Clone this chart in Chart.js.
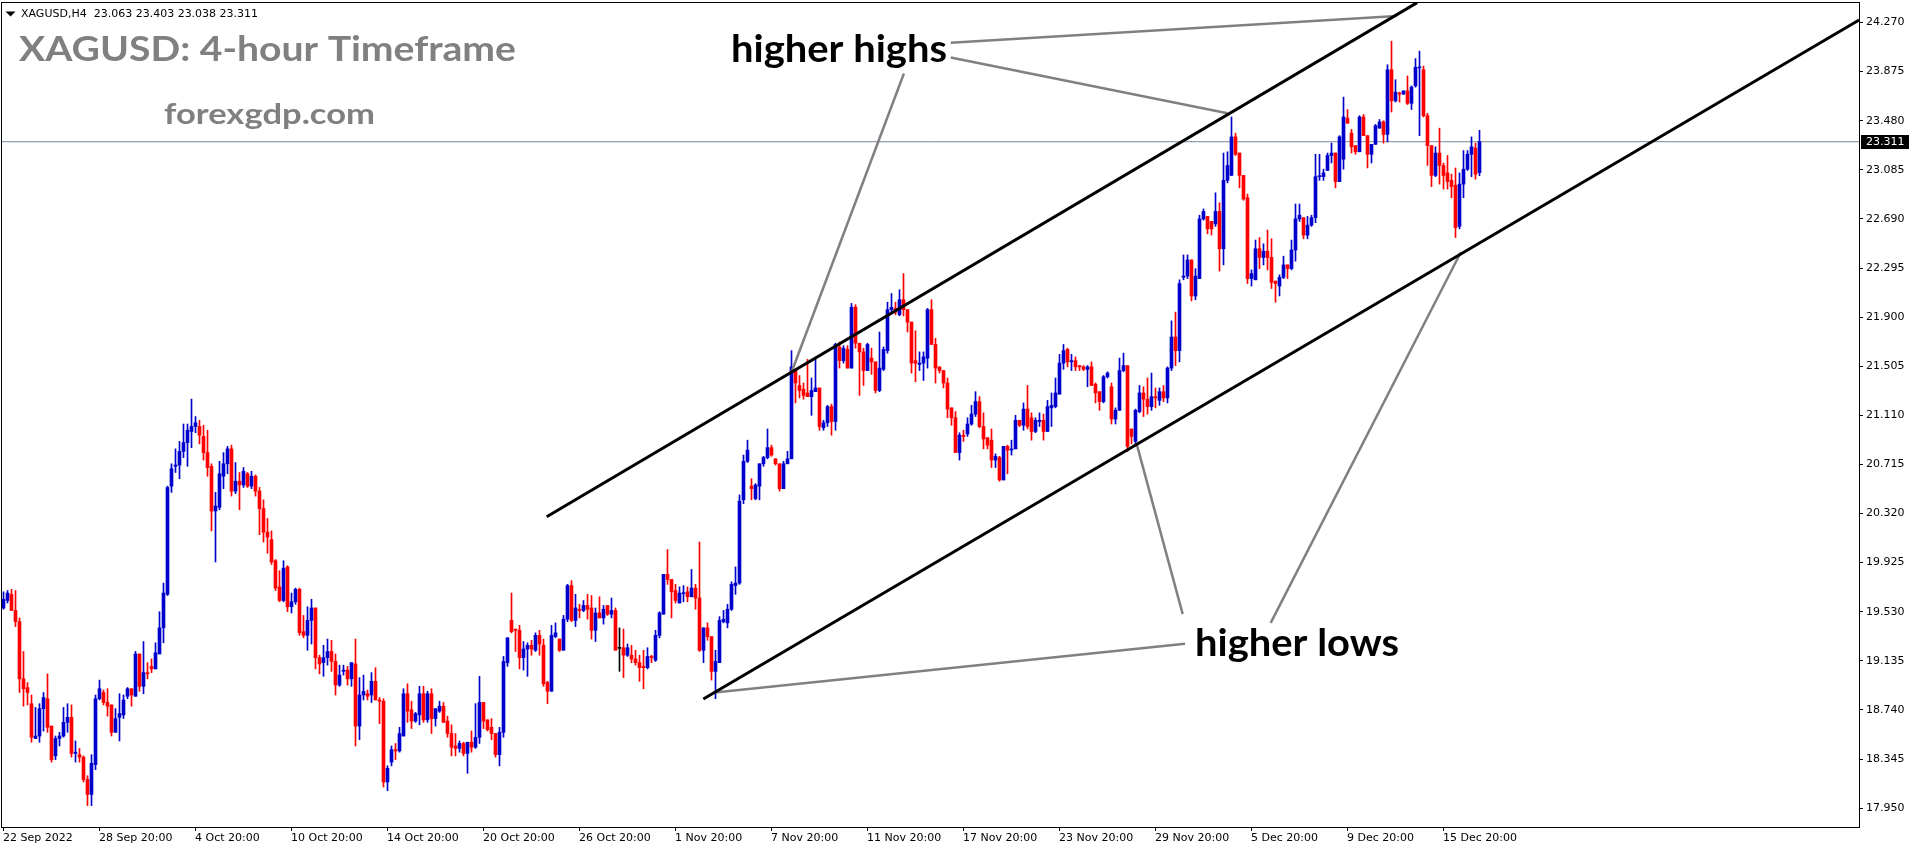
<!DOCTYPE html>
<html>
<head>
<meta charset="utf-8">
<title>XAGUSD H4</title>
<script src="https://cdn.jsdelivr.net/npm/chart.js"></script>
<style>
  html, body { margin: 0; padding: 0; background: #ffffff; }
  #chart { display: block; }
</style>
</head>
<body>
<canvas id="chart" width="1916" height="850"></canvas>
<script>
// velas H4 de XAGUSD (22 Sep - 19 Dec 2022), una entrada por barra
const opens = [
  19.56,19.62,19.67,19.54,19.45,18.99,18.92,18.79,18.51,18.53,
  18.75,18.83,18.61,18.37,18.51,18.53,18.64,18.68,18.39,18.38,
  18.36,18.18,18.06,18.30,18.83,18.88,18.80,18.78,18.56,18.68,
  18.70,18.85,18.91,18.85,19.19,18.93,19.04,19.09,19.07,19.19,
  19.40,19.67,20.54,20.70,20.71,20.82,20.89,20.98,21.02,21.02,
  20.94,20.81,20.70,20.34,20.37,20.62,20.72,20.84,20.50,20.58,
  20.55,20.64,20.54,20.62,20.50,20.36,20.17,20.11,19.94,19.73,
  19.62,19.89,19.57,19.61,19.71,19.37,19.34,19.46,19.56,19.16,
  19.12,19.16,19.21,19.13,18.94,19.05,19.06,18.99,19.11,18.61,
  18.86,18.87,18.86,18.97,18.82,18.81,18.16,18.32,18.42,18.41,
  18.53,18.87,18.74,18.65,18.70,18.87,18.66,18.87,18.67,18.73,
  18.77,18.65,18.55,18.45,18.43,18.47,18.39,18.48,18.44,18.52,
  18.80,18.66,18.60,18.55,18.38,18.56,19.12,19.46,19.39,19.38,
  19.16,19.23,19.26,19.22,19.34,19.26,18.96,18.89,19.33,19.31,
  19.22,19.47,19.74,19.46,19.55,19.54,19.58,19.56,19.38,19.52,
  19.48,19.58,19.51,19.54,19.235,19.24,19.18,19.18,19.15,19.12,
  19.09,19.08,19.17,19.14,19.34,19.51,19.83,19.79,19.70,19.60,
  19.675,19.69,19.65,19.72,19.64,19.22,19.40,19.33,19.05,19.12,
  19.45,19.44,19.55,19.74,19.76,20.43,20.74,20.54,20.44,20.54,
  20.72,20.77,20.85,20.76,20.72,20.52,20.72,20.76,21.47,21.35,
  21.32,21.29,21.26,21.30,21.33,21.01,21.05,21.18,21.06,21.66,
  21.55,21.64,21.49,21.98,21.69,21.62,21.47,21.57,21.54,21.31,
  21.48,21.63,21.96,21.97,21.92,22.04,21.96,21.86,21.55,21.52,
  21.53,21.57,21.96,21.68,21.50,21.47,21.37,21.17,21.09,20.81,
  20.95,20.96,21.04,21.12,21.22,21.02,20.93,20.91,20.75,20.77,
  20.59,20.86,20.83,20.84,21.07,21.03,21.16,21.09,20.98,21.06,
  21.07,20.98,21.17,21.18,21.28,21.53,21.64,21.54,21.55,21.51,
  21.50,21.48,21.50,21.36,21.30,21.22,21.42,21.34,21.08,21.15,
  21.47,21.51,21.00,20.90,21.14,21.29,21.24,21.18,21.26,21.23,
  21.30,21.25,21.49,21.74,21.63,22.22,22.23,22.36,22.07,22.21,
  22.69,22.71,22.67,22.65,22.75,22.45,23.00,23.04,23.35,23.22,
  23.04,22.86,22.21,22.20,22.45,22.38,22.43,22.38,22.19,22.15,
  22.22,22.32,22.29,22.44,22.69,22.70,22.56,22.64,22.70,23.03,
  23.03,23.08,23.20,23.22,22.99,23.17,23.50,23.38,23.28,23.23,
  23.51,23.36,23.21,23.29,23.42,23.47,23.37,23.89,23.64,23.70,
  23.695,23.72,23.62,23.76,23.905,23.89,23.52,23.28,23.04,23.22,
  23.12,23.06,23.00,22.96,22.63,22.97,23.09,23.21,23.26,23.063
];
const highs = [
  19.69,19.70,19.71,19.70,19.48,19.21,18.96,18.86,18.76,18.79,
  18.88,19.03,18.61,18.53,18.56,18.76,18.79,18.78,18.49,18.43,
  18.37,18.21,18.38,18.86,18.98,18.90,18.91,18.78,18.75,18.87,
  18.86,18.92,18.91,19.21,19.19,19.29,19.12,19.15,19.28,19.53,
  19.76,20.54,20.72,20.84,20.90,21.04,21.04,21.24,21.10,21.07,
  21.03,20.99,20.72,20.49,20.74,20.81,20.86,20.87,20.73,20.65,
  20.69,20.65,20.66,20.63,20.53,20.43,20.28,20.18,19.95,19.86,
  19.94,19.90,19.68,19.72,19.72,19.50,19.57,19.63,19.56,19.18,
  19.26,19.31,19.30,19.19,19.10,19.10,19.09,19.12,19.31,19.00,
  19.02,18.90,19.04,19.08,18.84,18.83,18.29,18.45,18.47,18.60,
  18.91,18.95,18.81,18.72,18.93,18.93,18.89,18.91,18.75,18.81,
  18.80,18.69,18.62,18.55,18.49,18.48,18.48,18.57,18.79,19.01,
  18.80,18.66,18.67,18.55,18.60,19.17,19.32,19.68,19.39,19.42,
  19.29,19.28,19.30,19.36,19.38,19.31,18.97,19.42,19.44,19.31,
  19.50,19.75,19.78,19.67,19.59,19.62,19.67,19.66,19.56,19.65,
  19.58,19.58,19.64,19.56,19.40,19.39,19.27,19.26,19.22,19.18,
  19.22,19.24,19.18,19.38,19.53,19.83,20.03,19.79,19.75,19.73,
  19.74,19.73,19.87,19.75,20.09,19.40,19.44,19.33,19.22,19.49,
  19.54,19.59,19.77,19.89,20.47,20.79,20.91,20.60,20.56,20.72,
  20.78,21.00,20.87,20.76,20.72,20.74,20.82,21.63,21.47,21.43,
  21.37,21.56,21.41,21.57,21.33,21.07,21.19,21.20,21.69,21.70,
  21.67,21.67,22.01,22.00,21.69,21.65,21.69,21.65,21.54,21.78,
  21.66,22.02,22.09,22.02,22.12,22.25,21.96,21.86,21.79,21.62,
  21.62,21.97,22.04,21.73,21.50,21.47,21.41,21.17,21.14,20.97,
  20.99,21.09,21.19,21.30,21.26,21.13,20.93,21.00,20.80,20.78,
  20.86,20.87,20.91,21.11,21.07,21.21,21.35,21.13,21.09,21.13,
  21.12,21.23,21.29,21.41,21.60,21.68,21.65,21.60,21.58,21.51,
  21.51,21.51,21.54,21.37,21.30,21.43,21.46,21.37,21.17,21.57,
  21.61,21.51,21.00,21.16,21.35,21.34,21.41,21.45,21.33,21.33,
  21.35,21.50,21.87,21.94,22.20,22.40,22.40,22.36,22.29,22.72,
  22.77,22.71,22.67,22.90,22.82,23.22,23.23,23.51,23.38,23.22,
  23.04,22.89,22.28,22.52,22.54,22.49,22.60,22.53,22.19,22.24,
  22.39,22.32,22.52,22.81,22.81,22.70,22.71,22.72,23.21,23.21,
  23.09,23.22,23.30,23.22,23.36,23.67,23.57,23.41,23.28,23.52,
  23.53,23.36,23.29,23.45,23.49,23.48,23.93,24.12,23.81,23.71,
  23.72,23.84,23.76,23.98,24.04,23.92,23.54,23.28,23.27,23.42,
  23.14,23.20,23.05,23.10,23.06,23.24,23.24,23.35,23.30,23.403
];
const lows = [
  19.55,19.60,19.54,19.41,18.88,18.77,18.78,18.48,18.51,18.48,
  18.57,18.56,18.32,18.34,18.45,18.52,18.56,18.36,18.32,18.32,
  18.16,17.97,17.97,18.26,18.82,18.78,18.69,18.53,18.56,18.49,
  18.67,18.83,18.77,18.85,18.89,18.87,18.99,19.04,19.07,19.19,
  19.28,19.66,20.49,20.65,20.60,20.77,20.70,20.85,20.97,20.88,
  20.75,20.62,20.18,19.93,20.35,20.52,20.64,20.46,20.48,20.35,
  20.53,20.53,20.52,20.46,20.15,20.09,20.00,19.91,19.70,19.61,
  19.61,19.53,19.52,19.59,19.34,19.32,19.22,19.27,19.07,19.03,
  19.01,19.10,19.05,18.86,18.93,19.02,18.94,18.93,18.45,18.50,
  18.82,18.82,18.80,18.82,18.63,18.12,18.09,18.29,18.34,18.40,
  18.53,18.64,18.59,18.64,18.62,18.64,18.64,18.55,18.61,18.72,
  18.64,18.52,18.37,18.37,18.40,18.37,18.23,18.40,18.43,18.47,
  18.59,18.57,18.50,18.36,18.29,18.52,19.09,19.36,19.21,19.07,
  19.06,19.01,19.18,19.21,19.18,18.93,18.79,18.89,19.32,19.21,
  19.22,19.45,19.45,19.41,19.48,19.53,19.47,19.31,19.29,19.48,
  19.43,19.50,19.48,19.22,19.05,19.00,19.17,19.12,19.10,18.97,
  18.91,19.07,19.12,19.13,19.32,19.51,19.75,19.48,19.60,19.60,
  19.61,19.61,19.65,19.55,19.21,19.12,19.30,18.98,18.83,19.12,
  19.44,19.40,19.54,19.67,19.75,20.40,20.73,20.43,20.43,20.43,
  20.70,20.76,20.78,20.71,20.50,20.52,20.72,20.76,21.21,21.25,
  21.24,21.26,21.11,21.30,20.99,20.99,21.02,20.95,20.99,21.49,
  21.53,21.49,21.49,21.65,21.27,21.35,21.47,21.44,21.29,21.30,
  21.47,21.61,21.93,21.92,21.91,21.91,21.78,21.45,21.38,21.47,
  21.39,21.49,21.68,21.37,21.45,21.33,21.09,21.03,20.81,20.75,
  20.90,20.94,21.03,21.10,21.01,20.84,20.84,20.69,20.69,20.58,
  20.59,20.64,20.79,20.84,21.02,20.99,21.00,20.91,20.97,21.02,
  20.91,20.98,21.02,21.17,21.28,21.48,21.50,21.47,21.47,21.47,
  21.47,21.34,21.35,21.21,21.15,21.21,21.41,21.04,21.04,21.15,
  21.46,20.82,20.88,20.88,21.13,21.10,21.12,21.15,21.17,21.19,
  21.22,21.21,21.47,21.51,21.54,22.20,22.21,22.03,22.04,22.21,
  22.68,22.57,22.56,22.63,22.27,22.32,22.98,23.04,23.20,22.94,
  22.84,22.17,22.15,22.20,22.29,22.32,22.28,22.13,22.02,22.07,
  22.21,22.21,22.28,22.35,22.67,22.53,22.53,22.63,22.66,23.00,
  23.00,23.08,23.14,22.94,22.99,23.09,23.46,23.22,23.21,23.23,
  23.36,23.10,23.14,23.29,23.42,23.30,23.31,23.55,23.63,23.63,
  23.69,23.61,23.57,23.75,23.36,23.51,23.12,22.95,23.03,22.97,
  22.93,22.93,22.86,22.54,22.61,22.86,23.08,23.03,23.01,23.038
];
const closes = [
  19.63,19.68,19.54,19.45,18.99,18.91,18.88,18.52,18.53,18.75,
  18.84,18.60,18.34,18.51,18.53,18.64,18.68,18.39,18.40,18.36,
  18.18,18.06,18.31,18.83,18.91,18.80,18.77,18.56,18.67,18.71,
  18.82,18.91,18.86,19.19,18.93,19.04,19.03,19.07,19.20,19.40,
  19.68,20.53,20.68,20.71,20.82,20.89,20.99,21.02,21.05,20.95,
  20.81,20.69,20.34,20.38,20.64,20.72,20.84,20.50,20.58,20.55,
  20.66,20.54,20.62,20.50,20.36,20.17,20.13,19.93,19.72,19.62,
  19.88,19.57,19.61,19.71,19.36,19.34,19.46,19.56,19.16,19.11,
  19.16,19.21,19.13,18.94,19.02,19.06,18.99,19.12,18.61,18.86,
  18.89,18.85,18.97,18.82,18.81,18.16,18.27,18.42,18.41,18.55,
  18.87,18.73,18.65,18.71,18.87,18.66,18.87,18.67,18.75,18.77,
  18.64,18.55,18.44,18.43,18.47,18.39,18.48,18.44,18.52,18.80,
  18.65,18.58,18.55,18.38,18.56,19.13,19.32,19.37,19.38,19.16,
  19.23,19.26,19.23,19.34,19.27,18.95,18.89,19.34,19.36,19.22,
  19.47,19.74,19.46,19.56,19.54,19.58,19.55,19.38,19.52,19.48,
  19.55,19.51,19.54,19.22,19.235,19.18,19.24,19.15,19.12,19.08,
  19.08,19.17,19.16,19.34,19.52,19.83,19.79,19.69,19.62,19.68,
  19.68,19.65,19.72,19.64,19.22,19.40,19.33,19.05,19.13,19.46,
  19.47,19.55,19.75,19.76,20.42,20.74,20.83,20.52,20.55,20.72,
  20.77,20.85,20.79,20.72,20.52,20.72,20.76,21.50,21.37,21.31,
  21.27,21.26,21.31,21.33,21.02,21.05,21.18,21.06,21.68,21.55,
  21.65,21.49,21.98,21.69,21.62,21.47,21.68,21.54,21.31,21.49,
  21.64,21.96,21.98,21.94,22.04,21.96,21.86,21.53,21.53,21.53,
  21.58,21.96,21.68,21.49,21.47,21.37,21.16,21.09,20.81,20.95,
  20.94,21.04,21.12,21.22,21.02,20.92,20.87,20.75,20.78,20.59,
  20.86,20.83,20.84,21.07,21.03,21.16,21.02,20.98,21.07,21.07,
  20.98,21.18,21.19,21.29,21.53,21.63,21.54,21.55,21.50,21.50,
  21.48,21.50,21.35,21.29,21.22,21.42,21.45,21.08,21.15,21.47,
  21.51,20.86,20.94,21.15,21.29,21.24,21.18,21.26,21.25,21.30,
  21.25,21.49,21.74,21.63,22.17,22.23,22.36,22.07,22.23,22.69,
  22.75,22.61,22.61,22.75,22.45,23.00,23.12,23.35,23.21,23.04,
  22.85,22.21,22.25,22.45,22.38,22.43,22.38,22.18,22.17,22.22,
  22.32,22.29,22.44,22.69,22.72,22.56,22.64,22.70,23.03,23.035,
  23.06,23.20,23.22,22.99,23.35,23.51,23.46,23.27,23.23,23.51,
  23.36,23.21,23.29,23.44,23.47,23.37,23.89,23.64,23.71,23.695,
  23.72,23.62,23.75,23.91,23.91,23.52,23.28,23.04,23.22,23.12,
  23.04,22.99,22.95,22.62,22.97,23.09,23.21,23.27,23.05,23.311
];

// etiquetas del eje de tiempo, una cada 24 barras
const xLabels = [
  '22 Sep 2022', '28 Sep 20:00', '4 Oct 20:00', '10 Oct 20:00', '14 Oct 20:00',
  '20 Oct 20:00', '26 Oct 20:00', '1 Nov 20:00', '7 Nov 20:00', '11 Nov 20:00',
  '17 Nov 20:00', '23 Nov 20:00', '29 Nov 20:00', '5 Dec 20:00', '9 Dec 20:00',
  '15 Dec 20:00'
];
const barsPerLabel = 24;
const yTicks = [
  17.950, 18.345, 18.740, 19.135, 19.530, 19.925, 20.320, 20.715, 21.110,
  21.505, 21.900, 22.295, 22.690, 23.085, 23.480, 23.875, 24.270
];
const lastPrice = 23.311;
const headerText = 'XAGUSD,H4  23.063 23.403 23.038 23.311';

// lineas dibujadas a mano en el grafico: [barra, precio]
const upperChannel = [[135.8, 20.294], [353.4, 24.43]];
const lowerChannel = [[174.96, 18.828], [463.9, 24.29]];
const higherHighsLines = [
  [[236.8, 24.107], [348.3, 24.323]],
  [[236.8, 23.989], [306.0, 23.54]],
  [[225.1, 23.86], [197.05, 21.46]]
];
const higherLowsLines = [
  [[295.4, 19.273], [177.8, 18.88]],
  [[294.8, 19.51], [283.2, 20.89]],
  [[316.8, 19.44], [364.3, 22.42]]
];

const BULL = '#0000cd';
const BEAR = '#ff0000';

function candleColor(o, c) {
    if (c > o) return BULL;
    if (c < o) return BEAR;
    return '#000000'; // doji
}

function toPoints(seg) {
    return seg.map(p => ({ x: p[0], y: p[1] }));
}

function lineSet(seg, color, width) {
    return {
        type: 'line',
        data: toPoints(seg),
        borderColor: color,
        borderWidth: width,
        pointRadius: 0,
        tension: 0,
        order: 0
    };
}

// texto ajustado a un ancho fijo (la fuente original no esta instalada)
function fitText(ctx, txt, x, y, w, font, color) {
    ctx.save();
    ctx.font = font;
    const natural = ctx.measureText(txt).width;
    ctx.translate(x, y);
    ctx.scale(w / natural, 1);
    ctx.fillStyle = color;
    ctx.textAlign = 'left';
    ctx.textBaseline = 'alphabetic';
    ctx.fillText(txt, 0, 0);
    ctx.restore();
}

const decorations = {
    id: 'decorations',
    afterDraw(chart) {
        const ctx = chart.ctx;
        const area = chart.chartArea;
        const y = chart.scales.y;

        // marco del grafico
        ctx.save();
        ctx.strokeStyle = '#000';
        ctx.lineWidth = 1;
        ctx.strokeRect(area.left - 0.5, area.top - 0.5, area.right - area.left + 1, area.bottom - area.top + 1);
        ctx.restore();

        // etiqueta del precio actual en el eje
        const py = Math.round(y.getPixelForValue(lastPrice));
        ctx.save();
        ctx.fillStyle = '#000';
        ctx.fillRect(area.right + 2, py - 7, 48, 14);
        ctx.fillStyle = '#fff';
        ctx.font = '11px "DejaVu Sans"';
        ctx.textBaseline = 'middle';
        ctx.fillText(lastPrice.toFixed(3), area.right + 7, py);
        ctx.restore();

        // cabecera MT4
        ctx.save();
        ctx.fillStyle = '#000';
        ctx.beginPath();
        ctx.moveTo(5.5, 11.5);
        ctx.lineTo(15.5, 11.5);
        ctx.lineTo(10.5, 16.5);
        ctx.closePath();
        ctx.fill();
        ctx.font = '11px "DejaVu Sans"';
        ctx.textBaseline = 'middle';
        ctx.fillText(headerText, 21, 14.5);
        ctx.restore();

        fitText(ctx, 'XAGUSD: 4-hour Timeframe', 19, 61, 497, 'bold 34px Lato', '#808080');
        fitText(ctx, 'forexgdp.com', 164, 124, 211, 'bold 29px Lato', '#808080');
        fitText(ctx, 'higher highs', 731, 62, 216, 'bold 38px Lato', '#000000');
        fitText(ctx, 'higher lows', 1195, 656, 204, 'bold 38px Lato', '#000000');
    }
};

function buildChart() {
    const colors = opens.map((o, i) => candleColor(o, closes[i]));

    const datasets = [
        {
            type: 'bar',
            label: 'body',
            data: opens.map((o, i) => ({ x: i, y: [o, closes[i]] })),
            backgroundColor: colors,
            barThickness: 3,
            minBarLength: 1,
            grouped: false,
            order: 1
        },
        {
            type: 'bar',
            label: 'wick',
            data: lows.map((l, i) => ({ x: i, y: [l, highs[i]] })),
            backgroundColor: colors,
            barThickness: 1,
            grouped: false,
            order: 2
        },
        // linea del precio actual (por debajo de las velas)
        {
            type: 'line',
            data: [{ x: -1, y: lastPrice }, { x: 470, y: lastPrice }],
            borderColor: '#778899',
            borderWidth: 1,
            pointRadius: 0,
            order: 3
        },
        lineSet(upperChannel, '#000000', 3),
        lineSet(lowerChannel, '#000000', 3)
    ];
    higherHighsLines.concat(higherLowsLines).forEach(seg => {
        datasets.push(lineSet(seg, '#808080', 2.5));
    });

    const ctx = document.getElementById('chart').getContext('2d');
    new Chart(ctx, {
        type: 'bar',
        data: { datasets: datasets },
        options: {
            responsive: false,
            animation: false,
            devicePixelRatio: 1,
            layout: { padding: { left: 2, top: 3, right: 0, bottom: 0 } },
            plugins: {
                legend: { display: false },
                tooltip: { enabled: false }
            },
            scales: {
                x: {
                    type: 'linear',
                    min: -0.375,
                    max: 463.875,
                    offset: false,
                    afterBuildTicks: axis => {
                        axis.ticks = xLabels.map((l, k) => ({ value: k * barsPerLabel - 0.125 }));
                    },
                    afterFit: axis => {
                        axis.height = 23;
                        axis.paddingLeft = 0;
                        axis.paddingRight = 0;
                    },
                    ticks: {
                        align: 'start',
                        autoSkip: false,
                        maxRotation: 0,
                        padding: 1,
                        color: '#000',
                        font: { family: 'DejaVu Sans', size: 11 },
                        callback: (v, idx) => xLabels[idx]
                    },
                    grid: { offset: false, drawOnChartArea: false, drawTicks: true, tickLength: 4, tickColor: '#000' },
                    border: { display: true, color: '#000' }
                },
                y: {
                    type: 'linear',
                    position: 'right',
                    min: 17.798,
                    max: 24.427,
                    afterBuildTicks: axis => {
                        axis.ticks = yTicks.map(v => ({ value: v }));
                    },
                    afterFit: axis => {
                        axis.width = 57;
                        axis.paddingTop = 0;
                        axis.paddingBottom = 0;
                    },
                    ticks: {
                        padding: 3,
                        color: '#000',
                        font: { family: 'DejaVu Sans', size: 11 },
                        callback: v => v.toFixed(3)
                    },
                    grid: { drawOnChartArea: false, drawTicks: true, tickLength: 4, tickColor: '#000' },
                    border: { display: true, color: '#000' }
                }
            }
        },
        plugins: [decorations]
    });
}

document.addEventListener('DOMContentLoaded', function() {
    let ready = Promise.resolve();
    if (document.fonts && document.fonts.load) {
        ready = Promise.all([
            document.fonts.load('bold 34px Lato'),
            document.fonts.load('11px "DejaVu Sans"')
        ]).catch(() => null);
    }
    ready.then(buildChart);
});
</script>
</body>
</html>
